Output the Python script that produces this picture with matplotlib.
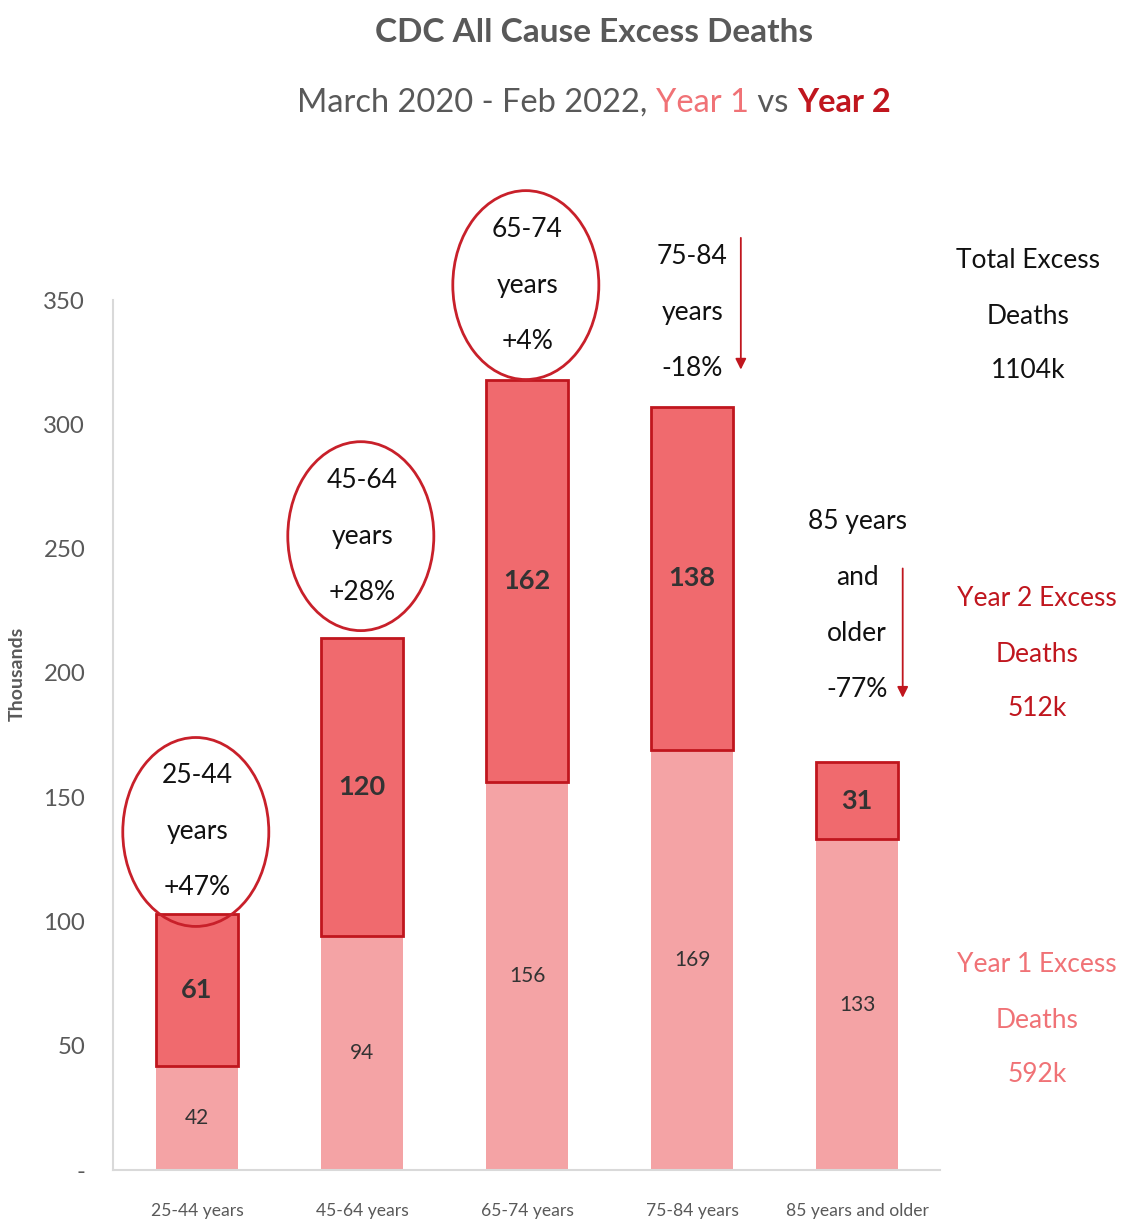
import matplotlib.pyplot as plt
from matplotlib import font_manager
from matplotlib.patches import Ellipse

# data (thousands of excess deaths)
age_groups = ['25-44 years', '45-64 years', '65-74 years', '75-84 years', '85 years and older']
year1 = [42, 94, 156, 169, 133]
year2 = [61, 120, 162, 138, 31]
change_labels = ['25-44\nyears\n+47%', '45-64\nyears\n+28%', '65-74\nyears\n+4%',
                 '75-84\nyears\n-18%', '85 years\nand\nolder\n-77%']
ytick_values = [0, 50, 100, 150, 200, 250, 300, 350]
ytick_labels = ['-', '50', '100', '150', '200', '250', '300', '350']
total_text = 'Total Excess\nDeaths\n1104k'
year2_text = 'Year 2 Excess\nDeaths\n512k'
year1_text = 'Year 1 Excess\nDeaths\n592k'

# layout for annotations
label_y = [136, 255, 356, 345, 227]
circled = [True, True, True, False, False]
arrow_dx = [0, 0, 0, 0.295, 0.276]
arrow_from = [0, 0, 0, 375, 242]
arrow_to = [0, 0, 0, 322, 190]

Y1_COLOR = '#F4A3A5'
Y2_COLOR = '#F06A6E'
DARK_RED = '#C0161E'
PINK_TXT = '#F07276'
GRAY = '#595959'

available = {f.name for f in font_manager.fontManager.ttflist}
font = 'DejaVu Sans'
for name in ['Lato', 'Roboto', 'Open Sans', 'Noto Sans']:
    if name in available:
        font = name
        break
plt.rcParams['font.family'] = [font, 'DejaVu Sans']

fig = plt.figure(figsize=(11.24, 12.28), dpi=100)
ax = fig.add_axes([0.1005, 0.0472, 0.7355, 0.7085])

x = list(range(len(age_groups)))
ax.bar(x, year1, width=0.5, color=Y1_COLOR, zorder=2)
ax.bar(x, year2, width=0.5, bottom=year1, color=Y2_COLOR,
       edgecolor=DARK_RED, linewidth=2, zorder=2)

for i in x:
    ax.text(i, year1[i] / 2, str(year1[i]), ha='center', va='center',
            fontsize=15, color='#333333')
    ax.text(i, year1[i] + year2[i] / 2, str(year2[i]), ha='center', va='center',
            fontsize=19.5, fontweight='bold', color='#333333')
    if circled[i]:
        ax.add_patch(Ellipse((i - 0.008, label_y[i]), 0.885, 76, fill=False,
                             edgecolor='#C8202A', linewidth=2, clip_on=False, zorder=3))
    else:
        ax.annotate('', xy=(i + arrow_dx[i], arrow_to[i]), xytext=(i + arrow_dx[i], arrow_from[i]),
                    arrowprops=dict(arrowstyle='-|>', color=DARK_RED, lw=1.3,
                                    mutation_scale=16, shrinkA=0, shrinkB=0),
                    annotation_clip=False)
    ax.text(i, label_y[i], change_labels[i], ha='center', va='center',
            fontsize=19, color='#111111', linespacing=2.55, zorder=4)

ax.set_xlim(-0.51, 4.5)
ax.set_ylim(0, 350)
ax.set_xticks(x)
ax.set_xticklabels(age_groups, fontsize=12.6, color=GRAY)
ax.set_yticks(ytick_values)
ax.set_yticklabels(ytick_labels, fontsize=17.3, color=GRAY)
ax.tick_params(length=0)
ax.tick_params(axis='x', pad=24)
ax.tick_params(axis='y', pad=20)
ax.set_ylabel('Thousands', fontsize=14, color=GRAY, fontweight='bold')
ax.yaxis.set_label_coords(-0.105, 0.57)
for side in ['top', 'right']:
    ax.spines[side].set_visible(False)
ax.spines['left'].set_color('#D9D9D9')
ax.spines['bottom'].set_color('#D9D9D9')
ax.spines['left'].set_linewidth(1.5)
ax.spines['bottom'].set_linewidth(1.5)

# right-hand summary text
fig.text(1028 / 1124, 1 - 316 / 1228, total_text, ha='center', va='center',
         fontsize=19, color='#111111', linespacing=2.5)
fig.text(1037 / 1124, 1 - 654 / 1228, year2_text, ha='center', va='center',
         fontsize=19, color=DARK_RED, linespacing=2.5)
fig.text(1037 / 1124, 1 - 1020 / 1228, year1_text, ha='center', va='center',
         fontsize=19, color=PINK_TXT, linespacing=2.5)

# titles
fig.text(594 / 1124, 1 - 33 / 1228, 'CDC All Cause Excess Deaths', ha='center', va='center',
         fontsize=24, fontweight='bold', color=GRAY)

parts = [('March 2020 - Feb 2022, ', GRAY, 'normal'),
         ('Year 1', PINK_TXT, 'normal'),
         (' vs ', GRAY, 'normal'),
         ('Year 2', DARK_RED, 'bold')]
renderer = fig.canvas.get_renderer()
texts = []
for s, c, w in parts:
    t = fig.text(0, 1 - 103 / 1228, s, ha='left', va='center', fontsize=23.5, color=c, fontweight=w)
    texts.append(t)
widths = [t.get_window_extent(renderer).width for t in texts]
start = 594 - sum(widths) / 2
for t, w in zip(texts, widths):
    t.set_x(start / 1124)
    start += w

fig.savefig('out.png', dpi=100)
